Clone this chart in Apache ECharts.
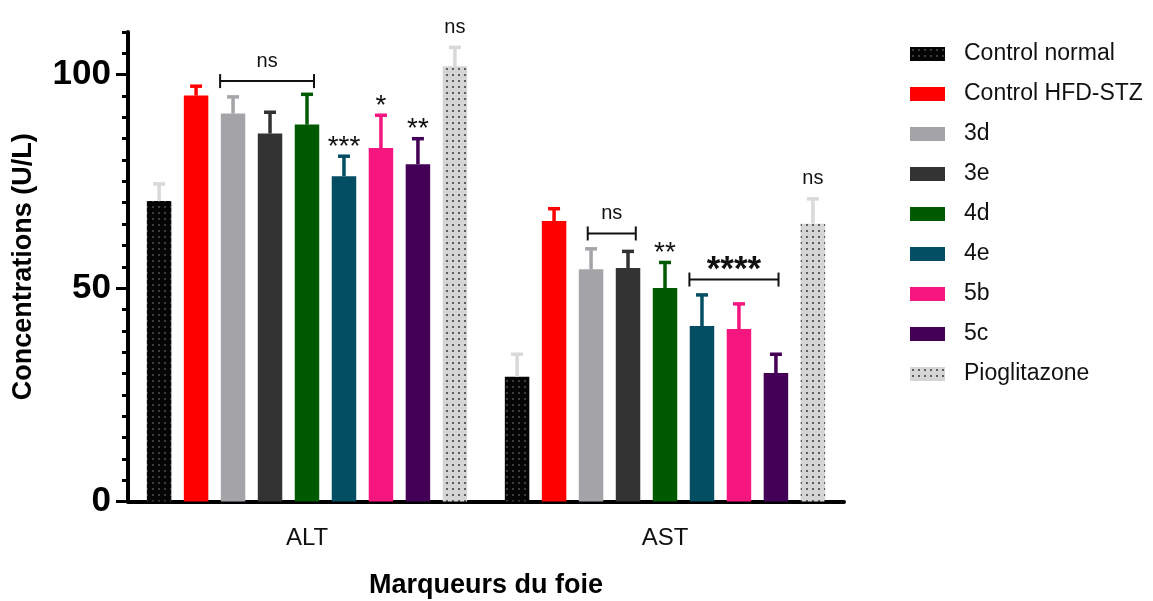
<!DOCTYPE html>
<html>
<head>
<meta charset="utf-8">
<script src="https://cdn.jsdelivr.net/npm/echarts@6/dist/echarts.min.js"></script>
<style>
  html, body { margin: 0; padding: 0; background: #ffffff; }
  #chart { width: 1153px; height: 601px; }
</style>
</head>
<body>
<div id="chart"></div>
<script>
// Liver markers (mean and SD, U/L) per treatment group
const categories = ['ALT', 'AST'];
const groupNames = ['Control normal', 'Control HFD-STZ', '3d', '3e', '4d', '4e', '5b', '5c', 'Pioglitazone'];
const altMean = [70.4, 95.1, 90.9, 86.2, 88.3, 76.2, 82.8, 79.0, 102.0];
const altSd   = [4.0, 2.2, 3.9, 5.0, 7.1, 4.7, 7.7, 6.0, 4.4];
const astMean = [29.2, 65.7, 54.4, 54.7, 50.0, 41.1, 40.4, 30.1, 65.1];
const astSd   = [5.3, 2.9, 4.8, 3.9, 6.0, 7.3, 5.9, 4.4, 5.8];
const yTickLabels = [0, 50, 100];

// Significance marks above single bars
const sigSingles = [
  { cat: 0, group: 5, text: '***' },
  { cat: 0, group: 6, text: '*' },
  { cat: 0, group: 7, text: '**' },
  { cat: 0, group: 8, text: 'ns' },
  { cat: 1, group: 4, text: '**' },
  { cat: 1, group: 8, text: 'ns' }
];
// Comparison brackets: span in bar slots, level in U/L
const sigBrackets = [
  { cat: 0, from: 1.65, to: 4.19, level: 98.5, text: 'ns' },
  { cat: 1, from: 1.91, to: 3.21, level: 62.8, text: 'ns' },
  { cat: 1, from: 4.66, to: 7.07, level: 52.0, text: '****' }
];

const FONT = "'Liberation Sans', Arial, Helvetica, sans-serif";
const BAR_W = 0.0684;   // bar width as a share of the category band
const BAR_GAP = 0.51;   // gap between bars as a share of bar width
const N_GROUPS = groupNames.length;

function dotPattern(bg, dot) {
  const c = document.createElement('canvas');
  c.width = 6; c.height = 6;
  const ctx = c.getContext('2d');
  ctx.fillStyle = bg;
  ctx.fillRect(0, 0, 6, 6);
  ctx.fillStyle = dot;
  ctx.fillRect(2, 2, 2, 2);
  return { image: c, repeat: 'repeat' };
}

const groupColors = [
  dotPattern('#050505', '#3c3c3c'),
  '#ff0000', '#a4a4a8', '#333333', '#005a00', '#034e62', '#f5167f', '#430056',
  dotPattern('#d5d5d5', '#5e5e5e')
];
const errorColors = ['#d9d9d9', '#ff0000', '#a4a4a8', '#333333', '#005a00', '#034e62', '#f5167f', '#430056', '#d9d9d9'];

const means = [altMean, astMean];
const sds = [altSd, astSd];

function slotX(api, cat, slot) {
  const center = api.coord([cat, 0])[0];
  const bw = api.size([1, 0])[0] * BAR_W;
  return center + (slot - (N_GROUPS - 1) / 2) * bw * (1 + BAR_GAP);
}

const barSeries = groupNames.map((name, g) => ({
  type: 'bar',
  name: name,
  data: [altMean[g], astMean[g]],
  barWidth: (BAR_W * 100) + '%',
  barGap: (BAR_GAP * 100) + '%',
  itemStyle: { color: groupColors[g] },
  emphasis: { disabled: true },
  z: 2
}));

const errorData = [];
groupNames.forEach((name, g) => {
  categories.forEach((c, ci) => {
    errorData.push([ci, means[ci][g], means[ci][g] + sds[ci][g], g]);
  });
});

const errorSeries = {
  type: 'custom',
  name: 'SD',
  data: errorData,
  encode: { x: 0, y: 2 },
  z: 3,
  silent: true,
  renderItem: function (params, api) {
    const cat = api.value(0), mean = api.value(1), top = api.value(2), g = api.value(3);
    const x = slotX(api, cat, g);
    const y0 = api.coord([cat, mean])[1];
    const y1 = api.coord([cat, top])[1];
    const style = { stroke: errorColors[g], lineWidth: 3.5 };
    return {
      type: 'group',
      children: [
        { type: 'line', shape: { x1: x, y1: y0, x2: x, y2: y1 }, style: style },
        { type: 'line', shape: { x1: x - 6, y1: y1, x2: x + 6, y2: y1 }, style: style }
      ]
    };
  }
};

const singleData = sigSingles.map(s => [s.cat, means[s.cat][s.group] + sds[s.cat][s.group], s.group]);
const singleSeries = {
  type: 'custom',
  name: 'sig',
  data: singleData,
  encode: { x: 0, y: 1 },
  z: 4,
  silent: true,
  renderItem: function (params, api) {
    const s = sigSingles[params.dataIndex];
    const cat = api.value(0), top = api.value(1), g = api.value(2);
    const x = slotX(api, cat, g);
    const yTip = api.coord([cat, top])[1];
    const isNs = s.text === 'ns';
    return {
      type: 'text',
      style: {
        text: s.text,
        x: x,
        y: isNs ? yTip - 20 : yTip - 9,
        align: 'center',
        verticalAlign: 'middle',
        fontFamily: FONT,
        fontSize: isNs ? 20 : 28,
        fill: '#111111'
      }
    };
  }
};

const bracketData = sigBrackets.map(b => [b.cat, b.level, b.from, b.to]);
const bracketSeries = {
  type: 'custom',
  name: 'brackets',
  data: bracketData,
  encode: { x: 0, y: 1 },
  z: 4,
  silent: true,
  renderItem: function (params, api) {
    const b = sigBrackets[params.dataIndex];
    const cat = api.value(0), level = api.value(1);
    const xa = slotX(api, cat, api.value(2));
    const xb = slotX(api, cat, api.value(3));
    const y = api.coord([cat, level])[1];
    const ln = { stroke: '#111111', lineWidth: 2 };
    const big = b.text !== 'ns';
    return {
      type: 'group',
      children: [
        { type: 'line', shape: { x1: xa, y1: y, x2: xb, y2: y }, style: ln },
        { type: 'line', shape: { x1: xa, y1: y - 7, x2: xa, y2: y + 7 }, style: ln },
        { type: 'line', shape: { x1: xb, y1: y - 7, x2: xb, y2: y + 7 }, style: ln },
        {
          type: 'text',
          style: {
            text: b.text,
            x: (xa + xb) / 2,
            y: big ? y - 9 : y - 20,
            align: 'center',
            verticalAlign: 'middle',
            fontFamily: FONT,
            fontSize: big ? 35 : 20,
            fontWeight: big ? 'bold' : 'normal',
            fill: '#111111'
          }
        }
      ]
    };
  }
};

const chart = echarts.init(document.getElementById('chart'), null, { renderer: 'canvas' });
chart.setOption({
  animation: false,
  backgroundColor: '#ffffff',
  grid: { left: 128, top: 32, width: 716, bottom: 99.5, containLabel: false, outerBoundsMode: 'none' },
  legend: {
    orient: 'vertical',
    left: 910,
    top: 41,
    padding: 0,
    itemWidth: 35,
    itemHeight: 14,
    itemGap: 14,
    icon: 'rect',
    selectedMode: false,
    data: groupNames,
    textStyle: { fontFamily: FONT, fontSize: 23, color: '#111111', lineHeight: 26, padding: [0, 0, 0, 14] }
  },
  xAxis: {
    type: 'category',
    data: categories,
    axisLine: { lineStyle: { color: '#000000', width: 4 } },
    axisTick: { alignWithLabel: true, length: 18, lineStyle: { color: '#000000', width: 4 } },
    axisLabel: { fontFamily: FONT, fontSize: 24, color: '#111111', margin: 25 },
    name: 'Marqueurs du foie',
    nameLocation: 'middle',
    nameGap: 71,
    nameTextStyle: { fontFamily: FONT, fontSize: 27, fontWeight: 'bold', color: '#000000' }
  },
  yAxis: [
    {
      type: 'value',
      position: 'left',
      min: 0,
      max: 110,
      interval: 5,
      axisLine: { show: true, lineStyle: { color: '#000000', width: 4 } },
      axisTick: { show: true, length: 6, lineStyle: { color: '#000000', width: 3 } },
      axisLabel: {
        customValues: yTickLabels,
        fontFamily: FONT, fontSize: 35, fontWeight: 'bold', color: '#000000', margin: 17
      },
      splitLine: { show: false },
      name: 'Concentrations (U/L)',
      nameLocation: 'middle',
      nameGap: 91,
      nameTextStyle: { fontFamily: FONT, fontSize: 27, fontWeight: 'bold', color: '#000000' }
    },
    {
      type: 'value',
      position: 'left',
      min: 0,
      max: 110,
      interval: 5,
      axisLine: { show: false },
      axisTick: { show: true, customValues: yTickLabels, length: 12, lineStyle: { color: '#000000', width: 3 } },
      axisLabel: { show: false },
      splitLine: { show: false }
    }
  ],
  series: barSeries.concat([errorSeries, singleSeries, bracketSeries])
});
</script>
</body>
</html>
